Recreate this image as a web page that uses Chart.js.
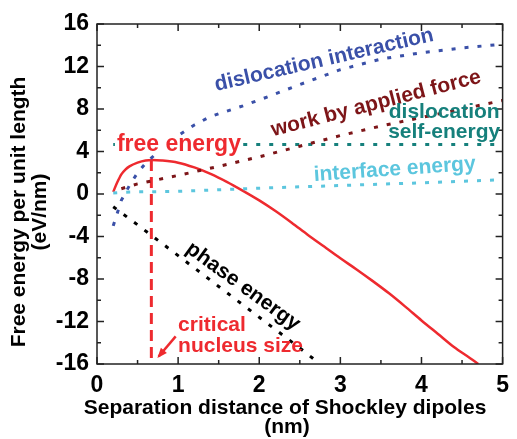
<!DOCTYPE html>
<html>
<head>
<meta charset="utf-8">
<script src="https://cdn.jsdelivr.net/npm/chart.js@4.4.0/dist/chart.umd.min.js"></script>
<style>
  html, body { margin: 0; padding: 0; background: #fff; }
  #wrap { width: 517px; height: 439px; }
</style>
</head>
<body>
<div id="wrap"><canvas id="chart" width="517" height="439"></canvas></div>
<script>
// data (x in nm, y in eV/nm)
const freeX = [0.2, 0.25, 0.3, 0.35, 0.4, 0.5, 0.6, 0.68, 0.8, 1.0, 1.2, 1.4, 1.6, 1.8, 2.0, 2.2, 2.4, 2.6, 2.8, 3.0, 3.2, 3.4, 3.6, 3.8, 4.0, 4.2, 4.4, 4.6, 4.7];
const freeY = [0.2, 1.1, 1.85, 2.3, 2.6, 2.95, 3.15, 3.2, 3.15, 2.95, 2.5, 1.9, 1.15, 0.3, -0.6, -1.6, -2.7, -3.85, -4.95, -6.05, -7.1, -8.2, -9.35, -10.6, -11.9, -13.15, -14.4, -15.45, -16];

const interX = [0.2, 0.3, 0.4, 0.5, 0.6, 0.7, 0.8, 1.0, 1.2, 1.4, 1.6, 1.8, 2.0, 2.5, 3.0, 3.5, 4.0, 4.5, 5.0];
const interY = [-3.0, -0.6, 0.8, 2.0, 2.9, 3.6, 4.3, 5.5, 6.5, 7.3, 7.8, 8.3, 8.85, 10.3, 11.7, 12.7, 13.3, 13.75, 14.1];

const workX = [0.3, 0.5, 1.0, 1.5, 2.0, 2.5, 3.0, 3.5, 4.0, 4.5, 5.0];
const workY = [0.5, 0.95, 1.75, 2.6, 3.5, 4.5, 5.5, 6.4, 7.2, 8.0, 8.8];

const selfX = [0.2, 5.0];
const selfY = [4.65, 4.65];

const faceX = [0.2, 0.3, 0.5, 1.0, 1.5, 2.0, 3.0, 4.0, 5.0];
const faceY = [0.1, 0.15, 0.2, 0.25, 0.4, 0.55, 0.8, 1.05, 1.35];

const phaseX = [0.2, 0.5, 1.0, 1.5, 2.0, 2.5, 2.75];
const phaseY = [-1.2, -2.9, -5.8, -8.7, -11.6, -14.5, -16];

const criticalX = [0.67, 0.67];
const criticalY = [3.2, -16];

const xTicks = [0, 1, 2, 3, 4, 5];
const yTicks = [-16, -12, -8, -4, 0, 4, 8, 12, 16];

const RED = "#ee2a2f", BLUE = "#3a50a8", DARKRED = "#7d1518", TEAL = "#16807c", LIGHTBLUE = "#5cc6de";
const FONT = "'Liberation Sans', Arial, sans-serif";

function pts(xs, ys) {
  return xs.map((x, i) => ({ x: x, y: ys[i] }));
}

function dotted(label, xs, ys, color) {
  return {
    label: label, data: pts(xs, ys), borderColor: color, borderWidth: 3,
    borderDash: [4, 9], pointRadius: 0, showLine: true, fill: false
  };
}

// text placed on the plot, anchored in data units
const notes = [
  { text: ["dislocation interaction"], x: 2.8, y: 12.6, rot: -13, color: BLUE, size: 21 },
  { text: ["work by applied force"], x: 3.44, y: 8.5, rot: -14.5, color: DARKRED, size: 21 },
  { text: ["dislocation", "self-energy"], x: 4.28, y: 6.75, rot: 0, color: TEAL, size: 21, lh: 20 },
  { text: ["interface energy"], x: 3.67, y: 2.3, rot: -4, color: LIGHTBLUE, size: 21 },
  { text: ["free energy"], x: 1.01, y: 4.6, rot: 0, color: RED, size: 23, bg: true },
  { text: ["phase energy"], x: 1.8, y: -8.7, rot: 36, color: "#000", size: 21 },
  { text: ["critical", "nucleus size"], x: 1.0, y: -13.35, rot: 0, color: RED, size: 21, left: true, lh: 21 }
];

const decor = {
  id: "decor",
  afterDatasetsDraw(chart) {
    const ctx = chart.ctx, xs = chart.scales.x, ys = chart.scales.y;
    const a = chart.chartArea;
    ctx.save();
    // frame with inward ticks
    ctx.strokeStyle = "#222";
    ctx.lineWidth = 1.5;
    ctx.strokeRect(a.left, a.top, a.right - a.left, a.bottom - a.top);
    for (let v = 0; v <= 5; v += 0.5) {
      const px = xs.getPixelForValue(v);
      const len = Number.isInteger(v) ? 7 : 4;
      ctx.beginPath();
      ctx.moveTo(px, a.bottom); ctx.lineTo(px, a.bottom - len);
      ctx.moveTo(px, a.top); ctx.lineTo(px, a.top + len);
      ctx.stroke();
    }
    for (let v = -16; v <= 16; v += 2) {
      const py = ys.getPixelForValue(v);
      const len = v % 4 === 0 ? 7 : 4;
      ctx.beginPath();
      ctx.moveTo(a.left, py); ctx.lineTo(a.left + len, py);
      ctx.moveTo(a.right, py); ctx.lineTo(a.right - len, py);
      ctx.stroke();
    }
    // arrow to the critical size
    const x0 = xs.getPixelForValue(0.97), y0 = ys.getPixelForValue(-13.4);
    const x1 = xs.getPixelForValue(0.76), y1 = ys.getPixelForValue(-15.3);
    ctx.strokeStyle = RED; ctx.fillStyle = RED; ctx.lineWidth = 2.5;
    ctx.beginPath(); ctx.moveTo(x0, y0); ctx.lineTo(x1, y1); ctx.stroke();
    const ang = Math.atan2(y1 - y0, x1 - x0);
    ctx.beginPath();
    ctx.moveTo(x1 + 2 * Math.cos(ang), y1 + 2 * Math.sin(ang));
    ctx.lineTo(x1 - 9 * Math.cos(ang - 0.45), y1 - 9 * Math.sin(ang - 0.45));
    ctx.lineTo(x1 - 9 * Math.cos(ang + 0.45), y1 - 9 * Math.sin(ang + 0.45));
    ctx.closePath(); ctx.fill();
    // labels
    notes.forEach(n => {
      const px = xs.getPixelForValue(n.x), py = ys.getPixelForValue(n.y);
      ctx.save();
      ctx.translate(px, py);
      ctx.rotate(n.rot * Math.PI / 180);
      ctx.font = "bold " + n.size + "px " + FONT;
      ctx.textAlign = n.left ? "left" : "center";
      ctx.textBaseline = "middle";
      const lh = n.lh || n.size;
      n.text.forEach((t, i) => {
        const ty = (i - (n.text.length - 1) / 2) * lh;
        if (n.bg) {
          const w = ctx.measureText(t).width;
          ctx.fillStyle = "#fff";
          ctx.fillRect(-w / 2 - 2, ty - n.size * 0.3, w + 4, n.size * 0.6);
        }
        ctx.fillStyle = n.color;
        ctx.fillText(t, 0, ty);
      });
      ctx.restore();
    });
    // axis titles
    ctx.fillStyle = "#000";
    ctx.font = "bold 21px " + FONT;
    ctx.textAlign = "center";
    ctx.textBaseline = "middle";
    ctx.fillText("Separation distance of Shockley dipoles", 285, 408);
    ctx.fillText("(nm)", 287, 427);
    ctx.save();
    ctx.translate(19, 212);
    ctx.rotate(-Math.PI / 2);
    ctx.fillText("Free energy per unit length", 0, 0);
    ctx.fillText("(eV/nm)", 0, 21);
    ctx.restore();
    ctx.restore();
  }
};

new Chart(document.getElementById("chart"), {
  type: "scatter",
  data: {
    datasets: [
      dotted("dislocation interaction", interX, interY, BLUE),
      dotted("work by applied force", workX, workY, DARKRED),
      dotted("dislocation self-energy", selfX, selfY, TEAL),
      dotted("interface energy", faceX, faceY, LIGHTBLUE),
      dotted("phase energy", phaseX, phaseY, "#000"),
      {
        label: "free energy", data: pts(freeX, freeY), borderColor: RED, borderWidth: 2.5,
        pointRadius: 0, showLine: true, cubicInterpolationMode: "monotone", fill: false
      },
      {
        label: "critical nucleus size", data: pts(criticalX, criticalY), borderColor: RED, borderWidth: 3,
        borderDash: [11, 6], pointRadius: 0, showLine: true, fill: false
      }
    ]
  },
  options: {
    responsive: false,
    animation: false,
    layout: { padding: { top: 24, right: 4, left: 0, bottom: 0 } },
    plugins: { legend: { display: false }, tooltip: { enabled: false } },
    scales: {
      x: {
        type: "linear", min: 0, max: 5,
        afterBuildTicks: s => { s.ticks = xTicks.map(v => ({ value: v })); },
        afterFit: s => { s.height = 75; },
        grid: { display: false, drawTicks: false },
        border: { display: false },
        ticks: { color: "#000", font: { family: FONT, size: 23, weight: "bold" }, padding: 8 }
      },
      y: {
        type: "linear", min: -16, max: 16,
        afterBuildTicks: s => { s.ticks = yTicks.map(v => ({ value: v })); },
        afterFit: s => { s.width = 97; },
        grid: { display: false, drawTicks: false },
        border: { display: false },
        ticks: { color: "#000", font: { family: FONT, size: 23, weight: "bold" }, padding: 8 }
      }
    }
  },
  plugins: [decor]
});
</script>
</body>
</html>
